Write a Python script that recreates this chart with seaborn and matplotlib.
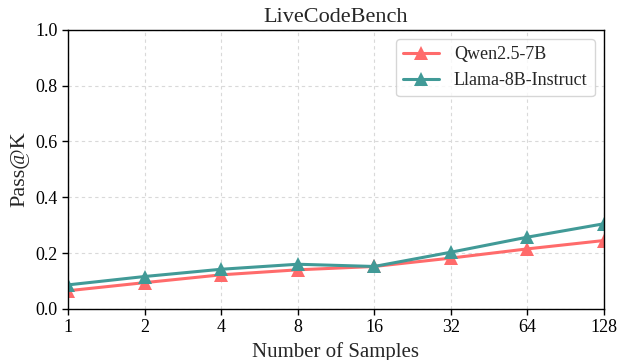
import matplotlib
matplotlib.use("Agg")
import matplotlib.pyplot as plt
import seaborn as sns
import pandas as pd

samples = [1, 2, 4, 8, 16, 32, 64, 128]
qwen = [0.065, 0.094, 0.122, 0.140, 0.152, 0.182, 0.215, 0.245]
llama = [0.086, 0.116, 0.142, 0.160, 0.152, 0.203, 0.257, 0.305]
series_names = ["Qwen2.5-7B", "Llama-8B-Instruct"]
colors = ["#FF6B6B", "#419A97"]

sns.set_theme(style="white")
plt.rcParams['font.family'] = ['Liberation Serif', 'DejaVu Serif']
plt.rcParams['mathtext.fontset'] = 'stix'

df = pd.concat([
    pd.DataFrame({"K": samples, "Pass": qwen, "Model": series_names[0]}),
    pd.DataFrame({"K": samples, "Pass": llama, "Model": series_names[1]}),
])

fig = plt.figure(figsize=(6.18, 3.6), dpi=100)
ax = fig.add_axes([0.110, 0.142, 0.867, 0.775])
sns.lineplot(data=df, x="K", y="Pass", hue="Model", palette=colors,
             marker="^", markersize=10, markeredgewidth=0, linewidth=2.2,
             dashes=False, ax=ax)
ax.set_xscale("log", base=2)
ax.set_xlim(1, 128)
ax.set_ylim(0, 1.0)
ax.set_xticks(samples)
ax.set_xticklabels([str(s) for s in samples])
ax.minorticks_off()
ax.set_yticks([0.0, 0.2, 0.4, 0.6, 0.8, 1.0])
ax.set_yticklabels(["0.0", "0.2", "0.4", "0.6", "0.8", "1.0"])
ax.tick_params(axis="both", labelsize=13, length=4, width=1, direction="out",
               bottom=True, left=True, colors="black")
ax.grid(True, linestyle=(0, (3, 3)), color="#d9d9d9", linewidth=0.8)
for s in ax.spines.values():
    s.set_color("black")
    s.set_linewidth(1)
ax.set_xlabel("Number of Samples", fontsize=15, labelpad=4)
ax.set_ylabel("Pass@K", fontsize=16)
ax.set_title("LiveCodeBench", fontsize=16, pad=6)
leg = ax.legend(loc="upper right", fontsize=13, frameon=True)
leg.set_title(None)
fig.savefig("out.png", dpi=100)
